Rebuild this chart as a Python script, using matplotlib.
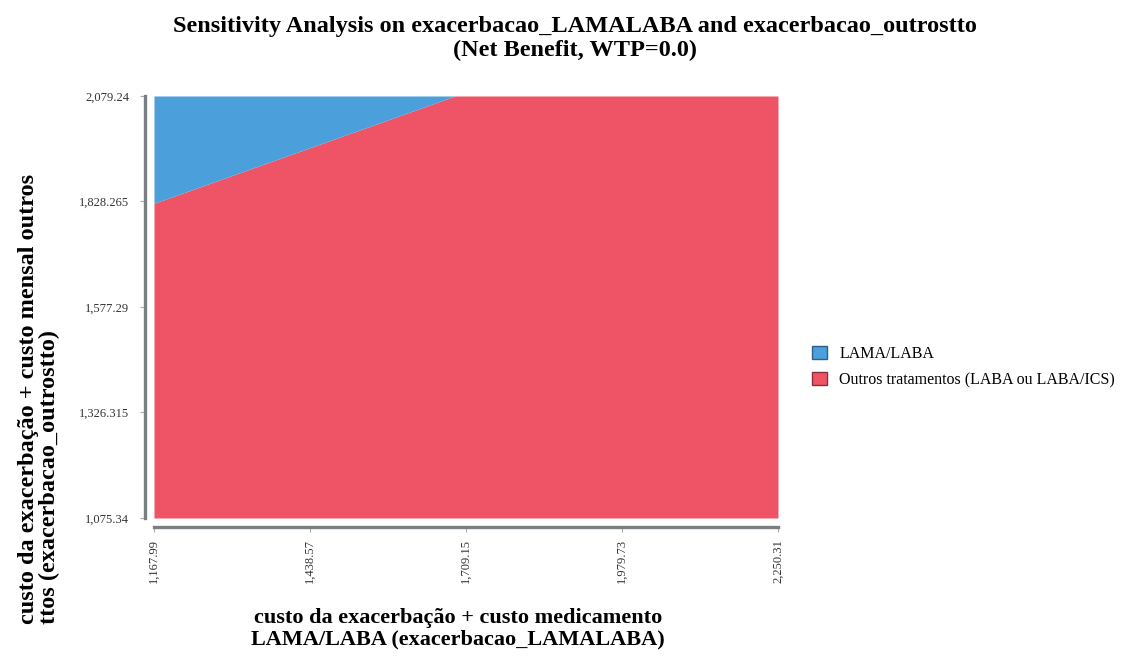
import matplotlib
matplotlib.use("Agg")
import matplotlib.pyplot as plt
from matplotlib.patches import Patch

# Sensitivity grid ranges
x_ticks = [1167.99, 1438.57, 1709.15, 1979.73, 2250.31]
x_tick_labels = ["1,167.99", "1,438.57", "1,709.15", "1,979.73", "2,250.31"]
y_ticks = [1075.34, 1326.315, 1577.29, 1828.265, 2079.24]
y_tick_labels = ["1,075.34", "1,326.315", "1,577.29", "1,828.265", "2,079.24"]

# Boundary between the optimal strategies (above: LAMA/LABA, below: others)
boundary_x = [1167.99, 1690.0, 2250.31]
boundary_y = [1824.0, 2079.24, 2079.24]

strategies = ["LAMA/LABA", "Outros tratamentos (LABA ou LABA/ICS)"]
colors = ["#4b9fdb", "#ef5466"]
edge_colors = ["#2f5f8c", "#8c2f3c"]

plt.rcParams["font.family"] = ["Liberation Serif", "DejaVu Serif"]

fig = plt.figure(figsize=(11.29, 6.57), dpi=100)
ax = fig.add_axes([0.1364, 0.2116, 0.5527, 0.6423])

# Detached axis lines
for side in ["top", "right"]:
    ax.spines[side].set_visible(False)
for side in ["left", "bottom"]:
    ax.spines[side].set_position(("outward", 6.5))
    ax.spines[side].set_color("#7a7f84")
    ax.spines[side].set_linewidth(2.4)

y_min, y_max = y_ticks[0], y_ticks[-1]
ax.fill_between(boundary_x, y_min, boundary_y, color=colors[1], linewidth=0)
ax.fill_between(boundary_x, boundary_y, y_max, color=colors[0], linewidth=0)

ax.set_xlim(x_ticks[0], x_ticks[-1])
ax.set_ylim(y_min, y_max)
ax.set_xticks(x_ticks)
ax.set_xticklabels(x_tick_labels, rotation=90, fontsize=9, color="#333333")
ax.set_yticks(y_ticks)
ax.set_yticklabels(y_tick_labels, fontsize=9, color="#333333")
ax.tick_params(axis="both", length=3.5, width=0.8, color="#aaaaaa")
ax.tick_params(axis="x", pad=5)
ax.tick_params(axis="y", pad=8)

ax.set_xlabel("custo da exacerbação + custo medicamento\nLAMA/LABA (exacerbacao_LAMALABA)",
              fontsize=16, fontweight="bold", linespacing=1.12, va="center")
ax.xaxis.set_label_coords(0.487, -0.263)

ax.set_ylabel("custo da exacerbação + custo mensal outros\nttos (exacerbacao_outrostto)",
              fontsize=17.5, fontweight="bold", linespacing=0.98,
              rotation=90, rotation_mode="anchor", ha="left", va="center",
              multialignment="left")
ax.yaxis.set_label_coords(-0.184, -0.252)

fig.text(0.509, 0.9414,
         "Sensitivity Analysis on exacerbacao_LAMALABA and exacerbacao_outrostto\n(Net Benefit, WTP=0.0)",
         ha="center", va="center", fontsize=17.5, fontweight="bold", linespacing=1.2)

handles = [Patch(facecolor=c, edgecolor=e, linewidth=1.0) for c, e in zip(colors, edge_colors)]
fig.legend(handles, strategies, loc="center left", bbox_to_anchor=(0.7192, 0.4414),
           frameon=False, fontsize=11.5, handlelength=0.95, handleheight=0.85,
           handletextpad=0.75, labelspacing=0.65, borderpad=0, borderaxespad=0)

fig.savefig("out.png", dpi=100)
